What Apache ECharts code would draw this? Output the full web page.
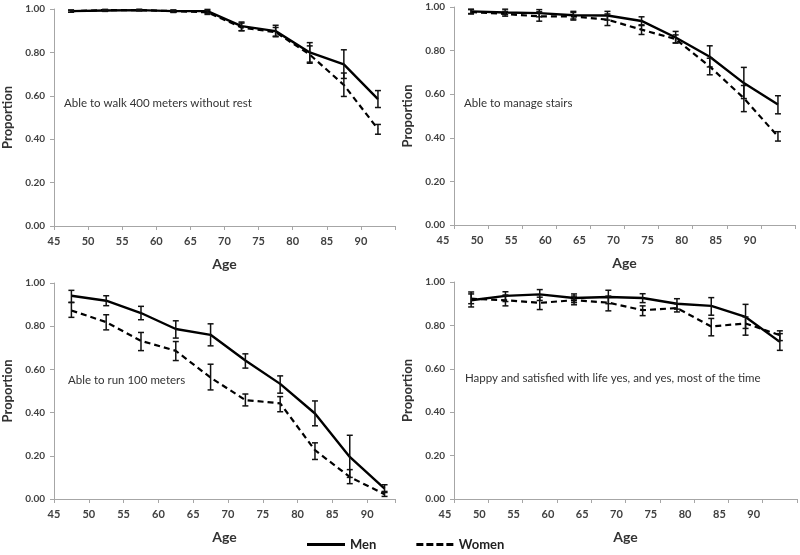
<!DOCTYPE html>
<html>
<head>
<meta charset="utf-8">
<script src="https://cdn.jsdelivr.net/npm/echarts@6/dist/echarts.min.js"></script>
<style>html,body{margin:0;padding:0;background:#fff}#c{width:800px;height:555px}</style>
</head>
<body>
<div id="c"></div>
<script>
// ---- data ----
var ages = [47.5, 52.5, 57.5, 62.5, 67.5, 72.5, 77.5, 82.5, 87.5, 92.5];
var xTicks = [45, 50, 55, 60, 65, 70, 75, 80, 85, 90];
var yTicks = [0, 0.2, 0.4, 0.6, 0.8, 1.0];
var panelTitles = ['Able to walk 400 meters without rest', 'Able to manage stairs', 'Able to run 100 meters', 'Happy and satisfied with life yes, and yes, most of the time'];

var walkMen     = [0.990, 0.993, 0.995, 0.990, 0.990, 0.921, 0.898, 0.800, 0.745, 0.585];
var walkMenLo   = [0.985, 0.989, 0.992, 0.985, 0.980, 0.900, 0.872, 0.750, 0.680, 0.546];
var walkMenHi   = [0.995, 0.997, 0.998, 0.995, 0.998, 0.940, 0.925, 0.845, 0.812, 0.624];
var walkWomen   = [0.990, 0.995, 0.995, 0.990, 0.985, 0.915, 0.893, 0.790, 0.650, 0.447];
var walkWomenLo = [0.985, 0.991, 0.992, 0.984, 0.975, 0.900, 0.875, 0.755, 0.597, 0.423];
var walkWomenHi = [0.995, 0.998, 0.998, 0.995, 0.993, 0.935, 0.915, 0.830, 0.705, 0.468];

var stairsMen     = [0.980, 0.975, 0.972, 0.962, 0.961, 0.936, 0.860, 0.772, 0.651, 0.553];
var stairsMenLo   = [0.970, 0.965, 0.955, 0.945, 0.940, 0.915, 0.835, 0.725, 0.580, 0.510];
var stairsMenHi   = [0.990, 0.990, 0.988, 0.980, 0.980, 0.955, 0.888, 0.822, 0.723, 0.593];
var stairsWomen   = [0.977, 0.968, 0.957, 0.957, 0.942, 0.896, 0.853, 0.727, 0.582, 0.406];
var stairsWomenLo = [0.968, 0.958, 0.935, 0.940, 0.915, 0.874, 0.835, 0.689, 0.520, 0.385];
var stairsWomenHi = [0.988, 0.980, 0.978, 0.975, 0.968, 0.918, 0.872, 0.765, 0.640, 0.428];

var runMen     = [0.941, 0.918, 0.861, 0.787, 0.760, 0.641, 0.533, 0.396, 0.195, 0.048];
var runMenLo   = [0.910, 0.895, 0.830, 0.745, 0.709, 0.606, 0.490, 0.339, 0.100, 0.030];
var runMenHi   = [0.966, 0.941, 0.892, 0.825, 0.811, 0.672, 0.570, 0.454, 0.295, 0.066];
var runWomen   = [0.873, 0.819, 0.732, 0.686, 0.562, 0.458, 0.443, 0.226, 0.102, 0.022];
var runWomenLo = [0.841, 0.783, 0.687, 0.641, 0.505, 0.431, 0.404, 0.183, 0.071, 0.012];
var runWomenHi = [0.910, 0.853, 0.771, 0.729, 0.624, 0.486, 0.474, 0.260, 0.136, 0.035];

var happyMen     = [0.916, 0.936, 0.943, 0.926, 0.931, 0.926, 0.900, 0.890, 0.839, 0.724];
var happyMenLo   = [0.885, 0.910, 0.915, 0.905, 0.900, 0.905, 0.875, 0.847, 0.786, 0.685];
var happyMenHi   = [0.954, 0.955, 0.965, 0.945, 0.962, 0.946, 0.923, 0.928, 0.897, 0.762];
var happyWomen   = [0.923, 0.916, 0.904, 0.916, 0.905, 0.870, 0.880, 0.795, 0.809, 0.755];
var happyWomenLo = [0.900, 0.890, 0.873, 0.895, 0.867, 0.845, 0.862, 0.752, 0.755, 0.730];
var happyWomenHi = [0.945, 0.940, 0.930, 0.935, 0.935, 0.890, 0.900, 0.832, 0.839, 0.775];

var panels = [
  {men: walkMen, menLo: walkMenLo, menHi: walkMenHi, women: walkWomen, womenLo: walkWomenLo, womenHi: walkWomenHi},
  {men: stairsMen, menLo: stairsMenLo, menHi: stairsMenHi, women: stairsWomen, womenLo: stairsWomenLo, womenHi: stairsWomenHi},
  {men: runMen, menLo: runMenLo, menHi: runMenHi, women: runWomen, womenLo: runWomenLo, womenHi: runWomenHi},
  {men: happyMen, menLo: happyMenLo, menHi: happyMenHi, women: happyWomen, womenLo: happyWomenLo, womenHi: happyWomenHi}
];

// ---- layout ----
var grids = [
  {left: 52, width: 343, top: 9, height: 217},
  {left: 454, width: 341, top: 7, height: 218},
  {left: 52, width: 343, top: 283, height: 216},
  {left: 454, width: 343, top: 282, height: 217}
];
var xMax = [95, 95, 94, 95];
var labelShift = [0, 22, 0, 18];
var titlePos = [{left: 59, top: 92}, {left: 459, top: 92}, {left: 63, top: 369}, {left: 460, top: 367}];

var FONT = 'Lato, "Open Sans", sans-serif';
var axisColor = '#a6a6a6';
var labelColor = '#404040';

function zip(xs, ys) { return xs.map(function (x, i) { return [x, ys[i]]; }); }
function zip3(xs, a, b) { return xs.map(function (x, i) { return [x, a[i], b[i]]; }); }

function errRender(params, api) {
  var x = api.value(0);
  var lo = api.coord([x, api.value(1)]);
  var hi = api.coord([x, api.value(2)]);
  var w = 3;
  var st = {stroke: '#111', lineWidth: 1.5};
  return {
    type: 'group',
    children: [
      {type: 'line', shape: {x1: lo[0], y1: lo[1], x2: hi[0], y2: hi[1]}, style: st},
      {type: 'line', shape: {x1: lo[0] - w, y1: lo[1], x2: lo[0] + w, y2: lo[1]}, style: st},
      {type: 'line', shape: {x1: hi[0] - w, y1: hi[1], x2: hi[0] + w, y2: hi[1]}, style: st}
    ]
  };
}

var xAxes = [], yAxes = [], series = [], titles = [];
grids.forEach(function (g, i) {
  xAxes.push({
    gridIndex: i, type: 'value', min: 45, max: xMax[i], interval: 5,
    name: 'Age', nameLocation: 'middle', nameGap: 31,
    nameTextStyle: {fontFamily: FONT, fontWeight: 'bold', fontSize: 14, color: '#333'},
    axisLine: {lineStyle: {color: axisColor, width: 1}},
    axisTick: {show: true, length: 4, lineStyle: {color: axisColor}},
    splitLine: {show: false},
    axisLabel: {
      margin: 10, fontFamily: FONT, fontWeight: 'bold', fontSize: 11, color: labelColor,
      padding: [0, labelShift[i], 0, 0],
      formatter: function (v) { return xTicks.indexOf(v) >= 0 ? String(v) : ''; }
    }
  });
  yAxes.push({
    gridIndex: i, type: 'value', min: 0, max: 1, interval: 0.2,
    name: 'Proportion', nameLocation: 'middle', nameGap: 40, nameRotate: 90,
    nameTextStyle: {fontFamily: FONT, fontWeight: 'bold', fontSize: 13, color: '#333'},
    axisLine: {show: true, lineStyle: {color: axisColor, width: 1}},
    axisTick: {show: true, length: 4, lineStyle: {color: axisColor}},
    splitLine: {show: false},
    axisLabel: {
      margin: 9, fontFamily: FONT, fontWeight: 'bold', fontSize: 10, color: labelColor,
      formatter: function (v) { return yTicks.indexOf(Math.round(v * 10) / 10) >= 0 ? v.toFixed(2) : ''; }
    }
  });
  titles.push({
    text: panelTitles[i], left: titlePos[i].left, top: titlePos[i].top,
    textStyle: {fontFamily: FONT, fontWeight: 'normal', fontSize: 11.5, color: '#333'}
  });
  var p = panels[i];
  series.push({
    name: 'Men', type: 'line', xAxisIndex: i, yAxisIndex: i, data: zip(ages, p.men),
    symbol: 'none', lineStyle: {color: '#000', width: 2.4, type: 'solid'}, itemStyle: {color: '#000'}, z: 3
  });
  series.push({
    name: 'Women', type: 'line', xAxisIndex: i, yAxisIndex: i, data: zip(ages, p.women),
    symbol: 'none', lineStyle: {color: '#000', width: 2.2, type: [6, 4]}, itemStyle: {color: '#000'}, z: 3
  });
  series.push({
    type: 'custom', xAxisIndex: i, yAxisIndex: i, renderItem: errRender,
    data: zip3(ages, p.menLo, p.menHi), encode: {x: 0, y: [1, 2]}, z: 4, silent: true
  });
  series.push({
    type: 'custom', xAxisIndex: i, yAxisIndex: i, renderItem: errRender,
    data: zip3(ages, p.womenLo, p.womenHi), encode: {x: 0, y: [1, 2]}, z: 4, silent: true
  });
});

var chart = echarts.init(document.getElementById('c'), null, {renderer: 'canvas'});
chart.setOption({
  animation: false,
  backgroundColor: '#fff',
  title: titles,
  grid: grids,
  xAxis: xAxes,
  yAxis: yAxes,
  legend: {
    data: [
      {name: 'Men', icon: 'rect'},
      {name: 'Women', icon: 'path://M0 0H7V3H0Z M10 0H17V3H10Z M20 0H27V3H20Z M30 0H37V3H30Z'}
    ],
    left: 307, top: 538, padding: 0, itemWidth: 38, itemHeight: 3, itemGap: 40,
    itemStyle: {color: '#000'},
    textStyle: {fontFamily: FONT, fontWeight: 'bold', fontSize: 13, color: '#222'}
  },
  series: series
});
</script>
</body>
</html>
